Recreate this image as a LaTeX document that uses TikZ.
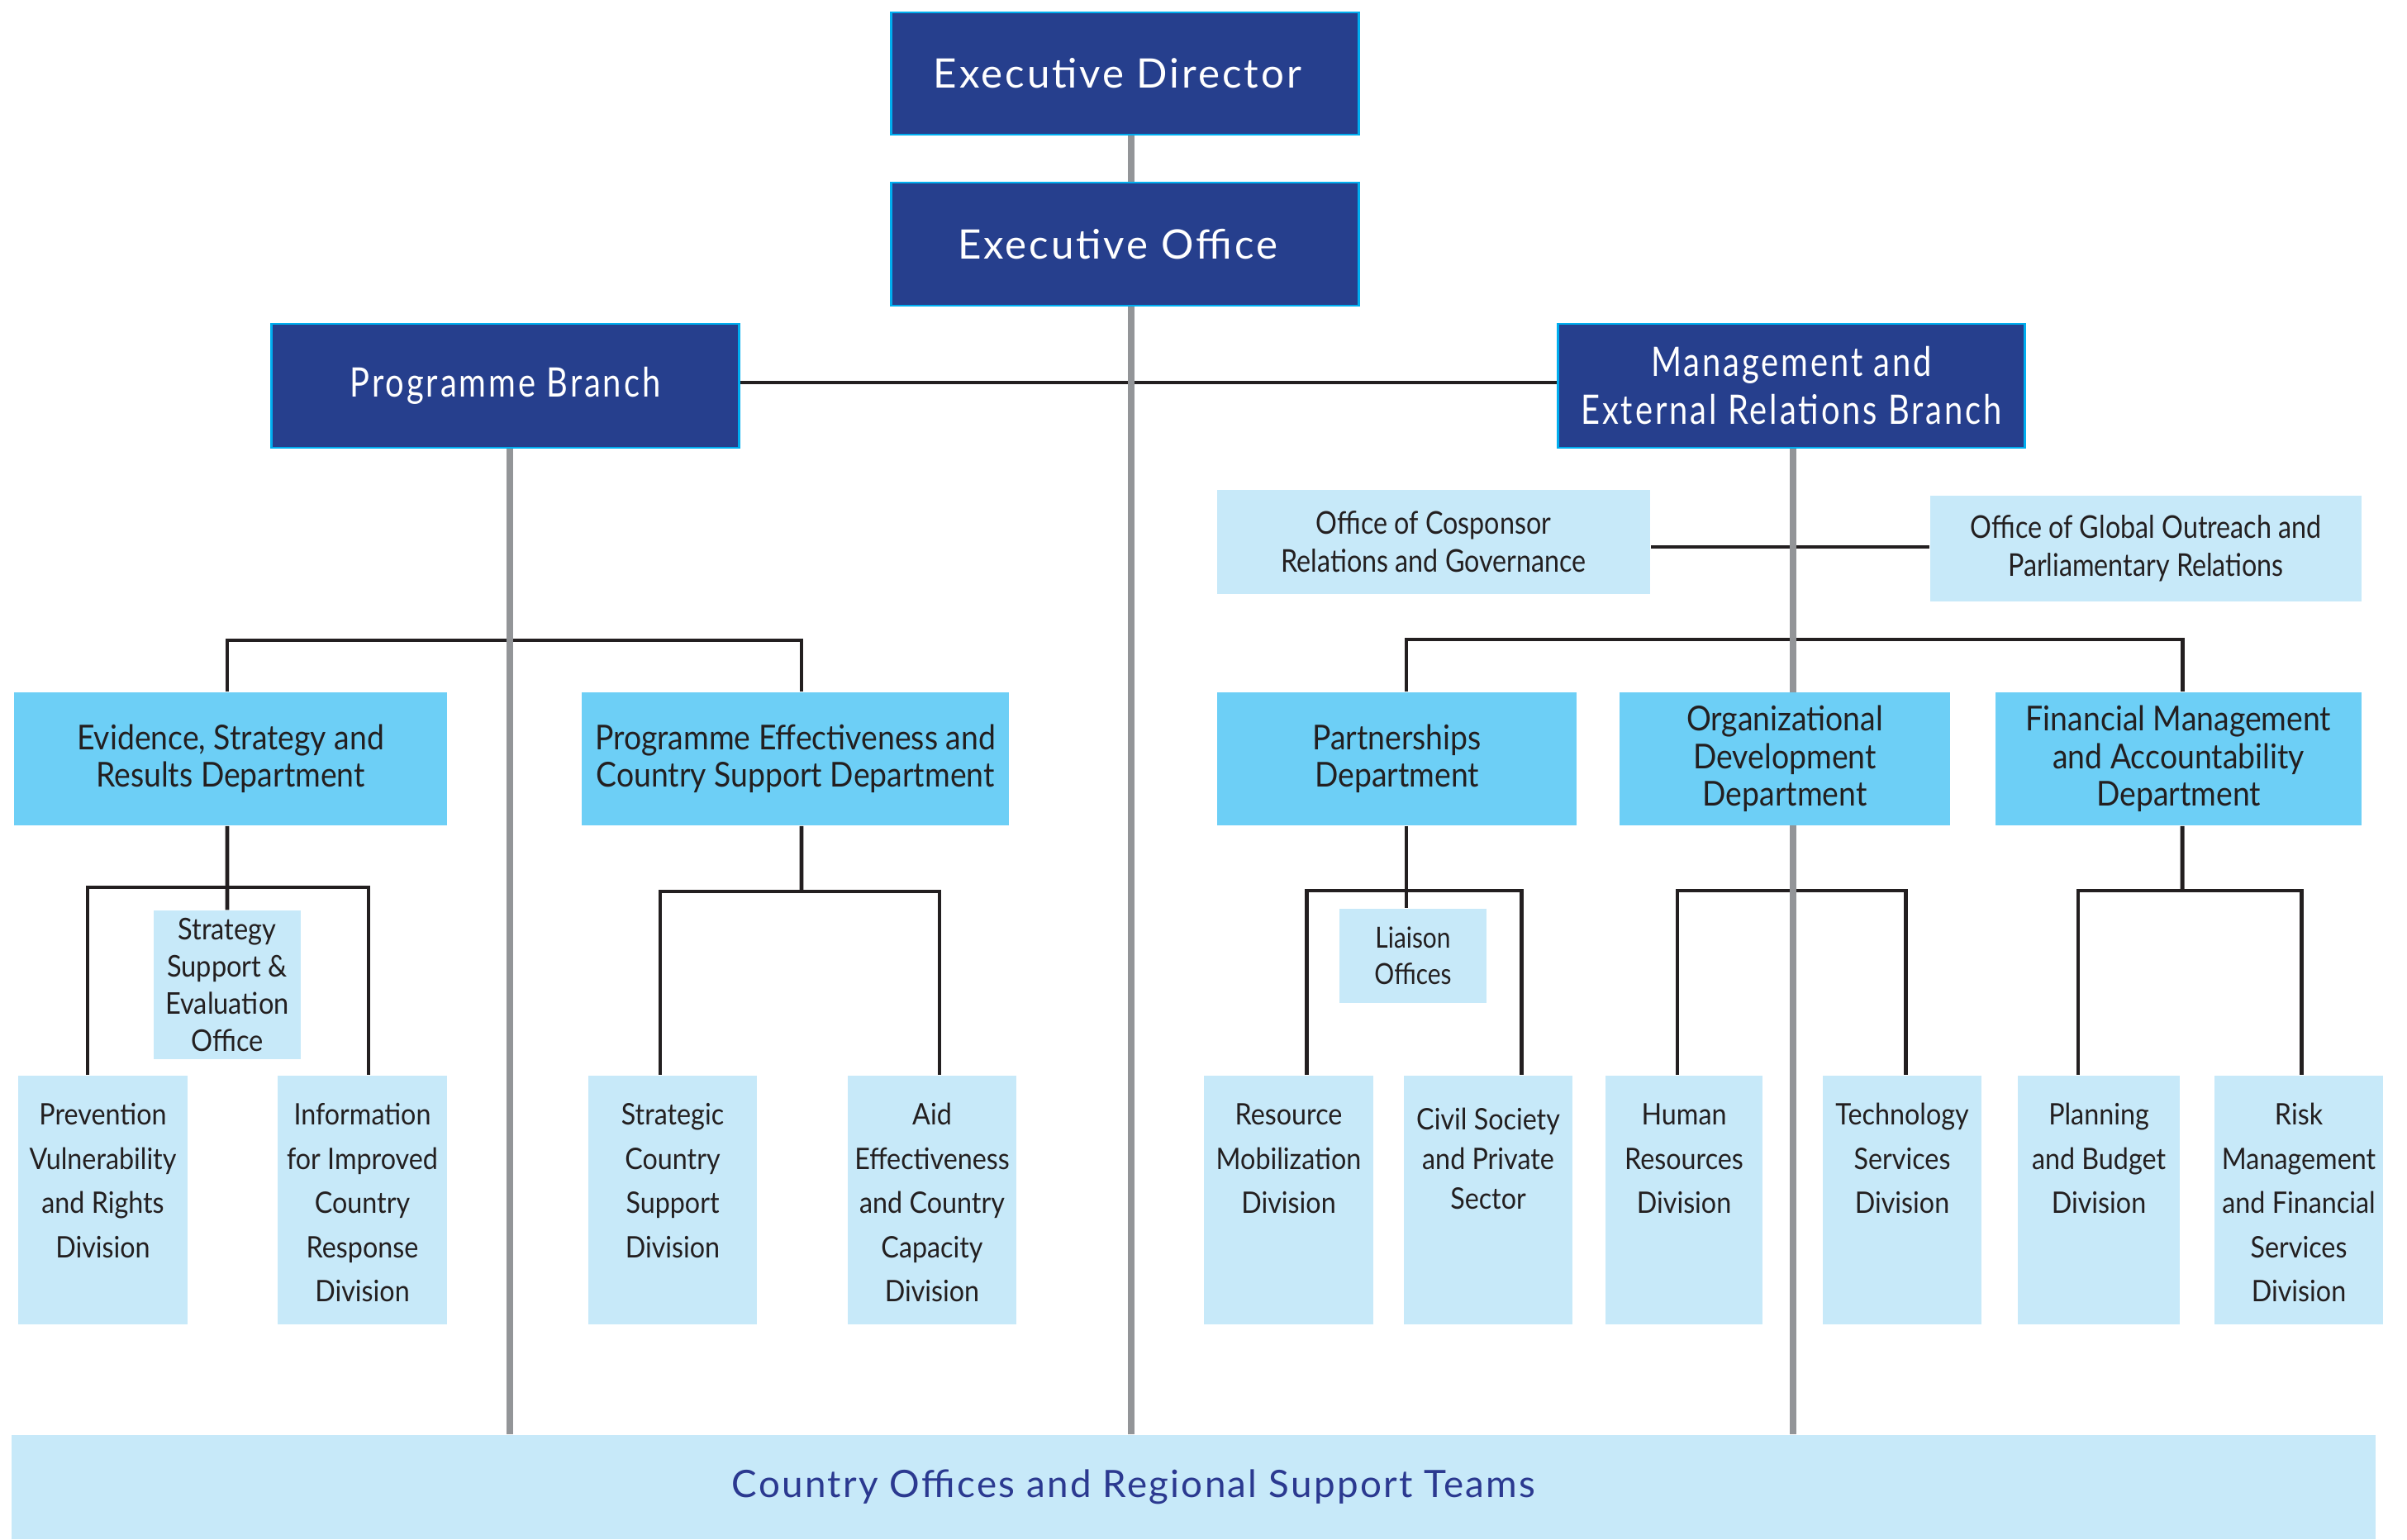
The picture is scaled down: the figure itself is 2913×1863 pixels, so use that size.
\documentclass[tikz,border=0pt]{standalone}
\usepackage{fontspec}
\setmainfont{Lato}
\newfontfamily\spacedfont[LetterSpace=6]{Lato}
\newfontfamily\narrowdark[LetterSpace=6,FakeStretch=0.81]{Lato}
\newfontfamily\condfont[FakeStretch=0.9]{Lato}
\newfontfamily\condb[FakeStretch=0.85]{Lato}
\newfontfamily\cofont[LetterSpace=5]{Lato}
\definecolor{navy}{HTML}{263F8D}
\definecolor{cyanb}{HTML}{00AEEF}
\definecolor{deptblue}{HTML}{6DCFF6}
\definecolor{lightblue}{HTML}{C7E9F9}
\definecolor{grayc}{HTML}{939598}
\definecolor{ink}{HTML}{231F20}
\definecolor{cotext}{HTML}{2B3990}
\pgfdeclarelayer{bg}
\pgfdeclarelayer{mid}
\pgfsetlayers{bg,mid,main}
\newcommand\divnode[6]{\node[divbox] (#1) at (#2,#3) {\parbox[c][3.01cm][t]{#4cm}{\centering\rule{0pt}{#5cm}#6}};}
\begin{document}
\begin{tikzpicture}[x=0.01cm,y=-0.01cm,
  darkbox/.style={fill=navy, draw=cyanb, line width=0.8pt, text=white, align=center, inner sep=0pt,
     font=\spacedfont\fontsize{14}{16.5}\selectfont},
  narrowbox/.style={darkbox, font=\narrowdark\fontsize{14}{16.5}\selectfont},
  deptbox/.style={fill=deptblue, text=ink, align=center, inner sep=0pt, minimum height=1.61cm,
     font=\condfont\fontsize{11.8}{12.9}\selectfont},
  lbox/.style={fill=lightblue, text=ink, align=center, inner sep=0pt,
     font=\condfont\fontsize{10.3}{12.8}\selectfont},
  offbox/.style={fill=lightblue, text=ink, align=center, inner sep=0pt,
     font=\condb\fontsize{10.8}{13}\selectfont},
  divbox/.style={fill=lightblue, text=ink, inner sep=0pt,
     font=\condfont\fontsize{10.2}{15.2}\selectfont},
  blk/.style={draw=ink, line width=1.4pt},
  gry/.style={draw=grayc, line width=2.3pt}]
\useasboundingbox (0,0) rectangle (2913,1863);

% top boxes
\node[darkbox, minimum width=5.65cm, minimum height=1.48cm] (ED) at (1361.5,89) {\hspace*{-0.18cm}Executive Director};
\node[darkbox, minimum width=5.65cm, minimum height=1.49cm] (EO) at (1361.5,295.5) {\hspace*{-0.18cm}Executive Office};
\node[narrowbox, minimum width=5.65cm, minimum height=1.50cm] (PB) at (611.5,467) {Programme Branch};
\node[narrowbox, minimum width=5.64cm, minimum height=1.50cm] (MB) at (2168,467) {Management and\\External Relations Branch};

% programme side
\node[deptbox, minimum width=5.24cm] (ESR) at (279,918.5) {Evidence, Strategy and\\Results Department};
\node[deptbox, minimum width=5.17cm] (PE) at (962.5,918.5) {Programme Effectiveness and\\Country Support Department};
\node[lbox, minimum width=1.78cm, minimum height=1.80cm] (SSE) at (275,1192) {Strategy\\Support \&\\Evaluation\\Office};
\divnode{PVR}{124.5}{1452.5}{2.05}{0.60}{Prevention\\Vulnerability\\and Rights\\Division}
\divnode{IIC}{438.5}{1452.5}{2.05}{0.60}{Information\\for Improved\\Country\\Response\\Division}
\divnode{SCS}{814}{1452.5}{2.04}{0.60}{Strategic\\Country\\Support\\Division}
\divnode{AEC}{1128}{1452.5}{2.04}{0.60}{Aid\\Effectiveness\\and Country\\Capacity\\Division}

% management side
\node[offbox, minimum width=5.24cm, minimum height=1.26cm] (CRG) at (1735,656) {Office of Cosponsor\\Relations and Governance};
\node[offbox, minimum width=5.22cm, minimum height=1.28cm] (GOP) at (2597,664) {Office of Global Outreach and\\Parliamentary Relations};
\node[deptbox, minimum width=4.35cm] (PD) at (1690.5,918.5) {Partnerships\\Department};
\node[deptbox, minimum width=4.00cm] (OD) at (2160,918.5) {Organizational\\Development\\Department};
\node[deptbox, minimum width=4.43cm] (FD) at (2636.5,918.5) {Financial Management\\and Accountability\\Department};
\node[lbox, minimum width=1.78cm, minimum height=1.14cm, font=\condb\fontsize{10}{12.6}\selectfont] (LO) at (1710,1157) {Liaison\\Offices};
\divnode{RMD}{1559.5}{1452.5}{2.05}{0.60}{Resource\\Mobilization\\Division}
\divnode{CSP}{1801}{1452.5}{2.04}{0.66}{\fontsize{10.2}{13.6}\selectfont Civil Society\\and Private\\Sector}
\divnode{HRD}{2038}{1452.5}{1.90}{0.60}{Human\\Resources\\Division}
\divnode{TSD}{2302}{1452.5}{1.92}{0.60}{Technology\\Services\\Division}
\divnode{PBD}{2540}{1452.5}{1.95}{0.60}{Planning\\and Budget\\Division}
\divnode{RMF}{2782}{1452.5}{2.04}{0.60}{Risk\\Management\\and Financial\\Services\\Division}

% bottom bar
\node[fill=lightblue, inner sep=0pt, minimum width=28.59cm, minimum height=1.26cm, text=cotext,
  font=\cofont\fontsize{13}{15}\selectfont] (COT) at (1444.5,1800) {\hspace*{-1.45cm}Country Offices and Regional Support Teams};

% junction coordinates
\coordinate (pbj) at (617,775);
\coordinate (esj) at (275,1074);
\coordinate (pej) at (970,1079);
\coordinate (ofj) at (2170,662);
\coordinate (mbj) at (2170,774);
\coordinate (pdj) at (1704,1078);
\coordinate (odj) at (2170,1078);
\coordinate (fdj) at (2641,1078);

\begin{pgfonlayer}{bg}
\draw[blk] ([yshift=0.04cm]PB.east) -- ([yshift=0.04cm]MB.west);
\draw[blk] ([xshift=-0.04cm]ESR.north) |- (pbj) -| ([xshift=0.075cm]PE.north);
\draw[blk] ([xshift=-0.04cm]ESR.south) -- (SSE.north);
\draw[blk] ([xshift=-0.185cm]PVR.north) |- (esj) -| ([xshift=0.075cm]IIC.north);
\draw[blk] ([xshift=0.075cm]PE.south) -- (pej);
\draw[blk] ([xshift=-0.15cm]SCS.north) |- (pej) -| ([xshift=0.09cm]AEC.north);
\draw[blk] (CRG.east |- ofj) -- (GOP.west |- ofj);
\draw[blk] ([xshift=0.115cm]PD.north) |- (mbj) -| ([xshift=0.045cm]FD.north);
\draw[blk] ([xshift=0.115cm]PD.south) -- ([xshift=0.115cm]PD.south |- LO.north);
\draw[blk] ([xshift=0.215cm]RMD.north) |- (pdj) -| ([xshift=0.40cm]CSP.north);
\draw[blk] ([xshift=-0.08cm]HRD.north) |- (odj) -| ([xshift=0.04cm]TSD.north);
\draw[blk] ([xshift=0.045cm]FD.south) -- (fdj);
\draw[blk] ([xshift=-0.25cm]PBD.north) |- (fdj) -| ([xshift=0.03cm]RMF.north);
\end{pgfonlayer}

\begin{pgfonlayer}{mid}
\draw[gry] ([xshift=0.075cm]ED.south) -- ([xshift=0.075cm]EO.north);
\draw[gry] ([xshift=0.075cm]EO.south) -- ([xshift=0.075cm]EO.south |- COT.north);
\draw[gry] ([xshift=0.055cm]PB.south) -- ([xshift=0.055cm]PB.south |- COT.north);
\draw[gry] ([xshift=0.02cm]MB.south) -- ([xshift=0.02cm]MB.south |- COT.north);
\end{pgfonlayer}
\end{tikzpicture}
\end{document}
